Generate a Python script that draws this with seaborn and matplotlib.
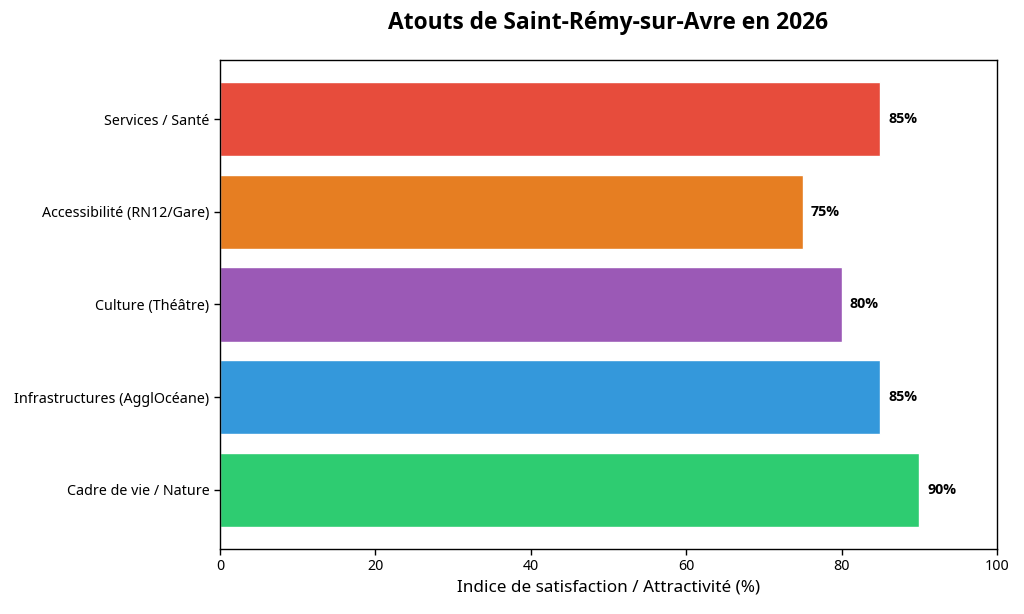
import matplotlib
matplotlib.use("Agg")
import matplotlib.pyplot as plt
import seaborn as sns
import pandas as pd

categories = ["Services / Santé", "Accessibilité (RN12/Gare)", "Culture (Théâtre)",
              "Infrastructures (AgglOcéane)", "Cadre de vie / Nature"]
values = [85, 75, 80, 85, 90]
colors = ["#e74c3c", "#e67e22", "#9b59b6", "#3498db", "#2ecc71"]
xticks = [0, 20, 40, 60, 80, 100]

sns.set_style("white")
plt.rcParams["font.family"] = ["Noto Sans", "DejaVu Sans"]
plt.rcParams["text.color"] = "black"
plt.rcParams["axes.labelcolor"] = "black"
plt.rcParams["xtick.color"] = "black"
plt.rcParams["ytick.color"] = "black"
BOLD = ["Open Sans", "DejaVu Sans"]

df = pd.DataFrame({"cat": categories, "val": values})

fig = plt.figure(figsize=(10.24, 6.14), dpi=100)
ax = fig.add_axes([220/1024, 1-549/614, (997-220)/1024, (549-60)/614])
sns.barplot(data=df, x="val", y="cat", hue="cat", palette=colors, legend=False,
            width=0.8, saturation=1, ax=ax)

for i, v in enumerate(values):
    ax.text(v + 1, i, f"{v}%", va="center", ha="left", fontsize=10.25,
            fontweight="bold", family=BOLD)

ax.set_xlim(0, 100)
ax.set_ylim(4.64, -0.64)
ax.set_xticks(xticks)
ax.set_xlabel("Indice de satisfaction / Attractivité (%)", fontsize=12.3)
ax.set_ylabel("")
ax.tick_params(axis="both", labelsize=10.25, length=4, width=1, left=True, bottom=True)
for s in ax.spines.values():
    s.set_visible(True)
    s.set_color("black")
    s.set_linewidth(1)
fig.suptitle("Atouts de Saint-Rémy-sur-Avre en 2026", fontsize=16.4, fontweight="bold",
             family=BOLD, x=(220+997)/2/1024, y=1-23/614, va="center")
fig.savefig("out.png", dpi=100)
